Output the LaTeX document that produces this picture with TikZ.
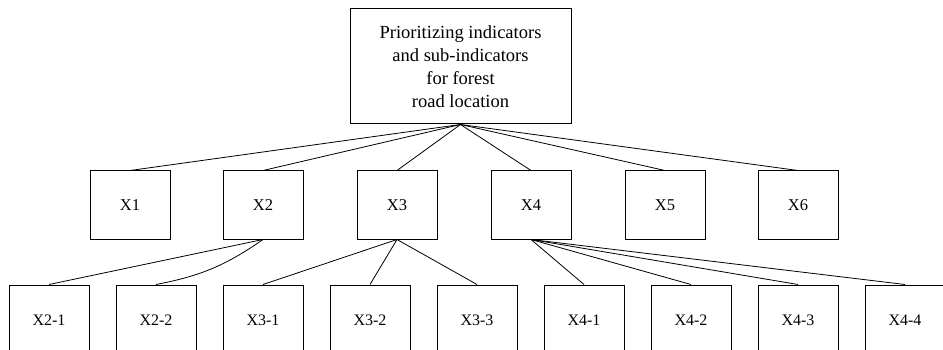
\documentclass[tikz,border=0pt]{standalone}
\usepackage{fontspec}
\setmainfont{Liberation Serif}
\usetikzlibrary{positioning}

\begin{document}
\begin{tikzpicture}[x=1pt, y=-1pt,
    goalbox/.style={draw, line width=1pt, minimum width=221pt, minimum height=115pt,
        inner sep=0pt, align=center, font=\fontsize{18.5}{23}\selectfont},
    critbox/.style={draw, line width=1pt, minimum width=80pt, minimum height=68pt,
        inner sep=0pt, font=\fontsize{16.5}{20}\selectfont},
    subbox/.style={draw, line width=1pt, minimum width=80pt, minimum height=70pt,
        inner sep=0pt, font=\fontsize{16}{20}\selectfont},
    link/.style={line width=0.8pt}]
    % Define the frame
    \clip (0, 0) rectangle (943, 350);

    % Goal on top
    \node[goalbox] (goal) at (460.5, 66.5)
        {Prioritizing indicators\\and sub-indicators\\for forest\\road location};

    % Indicators
    \node[critbox] (x1) at (130, 205) {X1};
    \node[critbox] (x2) at (263, 205) {X2};
    \node[critbox] (x3) at (397, 205) {X3};
    \node[critbox] (x4) at (531, 205) {X4};
    \node[critbox] (x5) at (665, 205) {X5};
    \node[critbox] (x6) at (798, 205) {X6};

    % Sub-indicators
    \node[subbox] (x21) at (49, 320) {X2-1};
    \node[subbox] (x22) at (156, 320) {X2-2};
    \node[subbox] (x31) at (263, 320) {X3-1};
    \node[subbox] (x32) at (370, 320) {X3-2};
    \node[subbox] (x33) at (477, 320) {X3-3};
    \node[subbox] (x41) at (584, 320) {X4-1};
    \node[subbox] (x42) at (691, 320) {X4-2};
    \node[subbox] (x43) at (798, 320) {X4-3};
    \node[subbox] (x44) at (905, 320) {X4-4};

    % Goal to indicators
    \foreach \n in {x1, x2, x3, x4, x5, x6}
        \draw[link] (goal.south) -- (\n.north);

    % Indicators to sub-indicators
    \draw[link] (x2.south) -- (x21.north);
    \draw[link] (x2.south) to[bend left=12] (x22.north);
    \foreach \n in {x31, x32, x33}
        \draw[link] (x3.south) -- (\n.north);
    \foreach \n in {x41, x42, x43, x44}
        \draw[link] (x4.south) -- (\n.north);
\end{tikzpicture}
\end{document}
